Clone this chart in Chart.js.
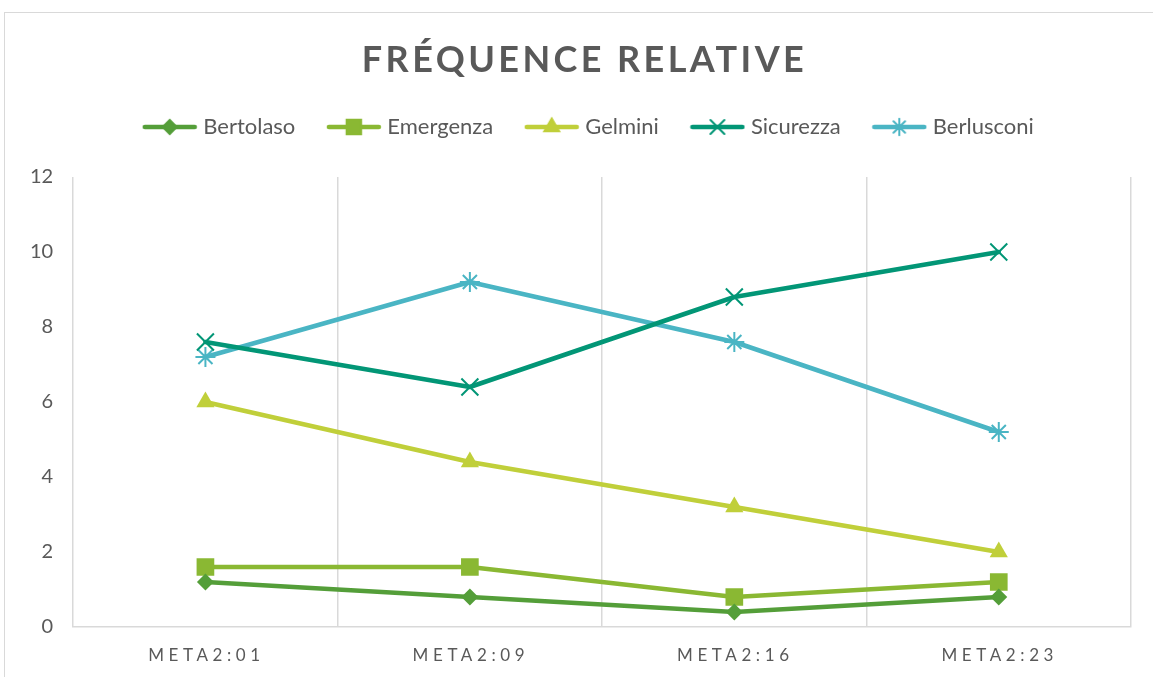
<!DOCTYPE html>
<html>
<head>
<meta charset="utf-8">
<script src="https://cdn.jsdelivr.net/npm/chart.js@4"></script>
<style>
    html, body { margin: 0; padding: 0; background: #fff; overflow: hidden; }
    #frame { position: absolute; left: 4px; top: 12px; width: 1200px; height: 700px; border: 1px solid #d9d9d9; box-sizing: border-box; }
    #wrap { position: absolute; left: 0; top: 0; width: 1153px; height: 677px; }
</style>
</head>
<body>
<div id="frame"></div>
<div id="wrap"><canvas id="chart"></canvas></div>
<script>
const TITLE = 'FRÉQUENCE RELATIVE';
const categories = ['META2:01', 'META2:09', 'META2:16', 'META2:23'];
const seriesNames = ['Bertolaso', 'Emergenza', 'Gelmini', 'Sicurezza', 'Berlusconi'];
const bertolaso = [1.2, 0.8, 0.4, 0.8];
const emergenza = [1.6, 1.6, 0.8, 1.2];
const gelmini = [6, 4.4, 3.2, 2];
const sicurezza = [7.6, 6.4, 8.8, 10];
const berlusconi = [7.2, 9.2, 7.6, 5.2];
const yTicks = [0, 2, 4, 6, 8, 10, 12];

const seriesValues = [bertolaso, emergenza, gelmini, sicurezza, berlusconi];
const colors = ['#549E39', '#8AB833', '#C0CF3A', '#029676', '#4AB5C4'];
const markers = [
    { style: 'rectRot', radius: 8.5, filled: true },
    { style: 'rect', radius: 12.5, filled: true },
    { style: 'triangle', radius: 10.5, filled: true },
    { style: 'crossRot', radius: 12, filled: false },
    { style: 'star', radius: 10, filled: false }
];
const TEXT = '#595959';
const GRID = '#d9d9d9';

// small line + marker picture used as legend symbol
function makeIcon(color, m) {
    const c = document.createElement('canvas');
    c.width = 56;
    c.height = 22;
    const ctx = c.getContext('2d');
    ctx.strokeStyle = color;
    ctx.lineWidth = 4.5;
    ctx.lineCap = 'round';
    ctx.beginPath();
    ctx.moveTo(3, 11);
    ctx.lineTo(53, 11);
    ctx.stroke();
    ctx.fillStyle = color;
    ctx.lineWidth = 2;
    Chart.helpers.drawPoint(ctx, {
        pointStyle: m.style,
        radius: m.radius * 0.82,
        rotation: 0,
        borderWidth: 2
    }, 28, 11);
    return c;
}

const datasets = seriesNames.map(function(name, i) {
    const m = markers[i];
    return {
        label: name,
        data: seriesValues[i],
        borderColor: colors[i],
        backgroundColor: colors[i],
        borderWidth: 4.5,
        borderJoinStyle: 'round',
        borderCapStyle: 'round',
        tension: 0,
        pointStyle: m.style,
        pointRadius: m.radius,
        pointHoverRadius: m.radius,
        pointBackgroundColor: m.filled ? colors[i] : 'transparent',
        pointBorderColor: colors[i],
        pointBorderWidth: m.filled ? 0 : 2
    };
});

const icons = seriesNames.map(function(n, i) { return makeIcon(colors[i], markers[i]); });

// extra room under the legend, and legend centred on the frame
const legendGap = {
    id: 'legendGap',
    beforeInit(chart) {
        const fit = chart.legend.fit;
        chart.legend.fit = function() {
            fit.bind(chart.legend)();
            this.height += 29;
        };
    },
    afterLayout(chart) {
        chart.legend.left += 40;
    }
};

// title and x labels are letter-spaced, so they are drawn here
const spacedText = {
    id: 'spacedText',
    afterDraw(chart) {
        const ctx = chart.ctx;
        const xs = chart.scales.x;
        ctx.save();
        ctx.fillStyle = TEXT;
        ctx.textAlign = 'center';
        ctx.textBaseline = 'middle';

        ctx.font = 'bold 36px Lato';
        ctx.letterSpacing = '3.4px';
        ctx.fillText(TITLE, chart.width / 2 + 8, 60);

        ctx.font = '17px Lato';
        ctx.letterSpacing = '4.6px';
        categories.forEach(function(c, i) {
            ctx.fillText(c, xs.getPixelForTick(i) + 1, chart.chartArea.bottom + 29);
        });
        ctx.restore();
    }
};

new Chart(document.getElementById('chart'), {
    type: 'line',
    data: { labels: categories, datasets: datasets },
    plugins: [legendGap, spacedText],
    options: {
        responsive: true,
        maintainAspectRatio: false,
        animation: false,
        layout: { padding: { top: 80, left: 10, right: 22, bottom: 50 } },
        plugins: {
            legend: {
                position: 'top',
                labels: {
                    usePointStyle: true,
                    pointStyleWidth: 45,
                    boxHeight: 22,
                    padding: 36,
                    color: TEXT,
                    font: { family: 'Lato', size: 22 },
                    generateLabels: function(chart) {
                        const items = Chart.defaults.plugins.legend.labels.generateLabels(chart);
                        items.forEach(function(it, i) { it.pointStyle = icons[i]; });
                        return items;
                    }
                }
            },
            tooltip: { enabled: false }
        },
        scales: {
            x: {
                offset: true,
                grid: { offset: true, color: GRID, lineWidth: 1.5, drawTicks: false },
                border: { color: GRID, width: 1.5 },
                ticks: { display: false }
            },
            y: {
                min: 0,
                max: 12,
                afterBuildTicks: function(scale) {
                    scale.ticks = yTicks.map(function(v) { return { value: v }; });
                },
                grid: { display: false, drawTicks: false },
                border: { display: false },
                ticks: {
                    padding: 20,
                    color: TEXT,
                    font: { family: 'Lato', size: 20 }
                }
            }
        }
    }
});
</script>
</body>
</html>
